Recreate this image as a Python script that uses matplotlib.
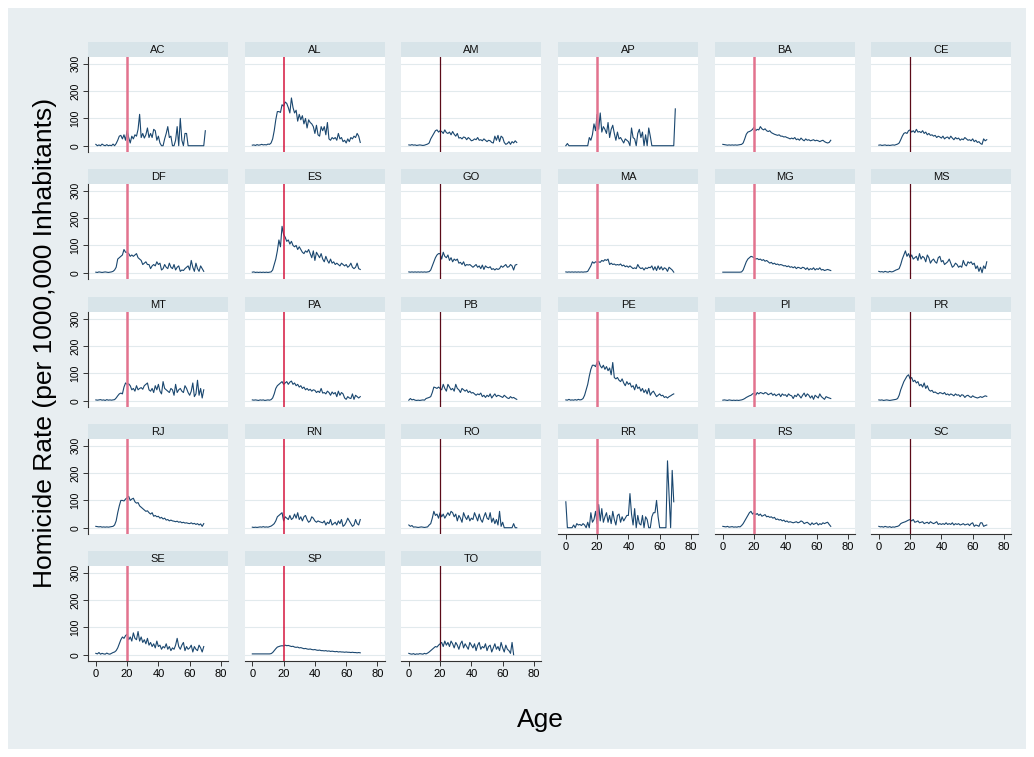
import matplotlib
matplotlib.use("Agg")
import matplotlib.pyplot as plt
from matplotlib.patches import Rectangle

plt.rcParams['font.family'] = ['Liberation Sans', 'DejaVu Sans']

# homicide rate by age (0, 1, 2, ...) for each state
AC = [5, 0, 3, 0, 6, 2, 0, 4, 0, 2, 0, 6, 0, 8, 20, 35, 38, 25, 40, 20,
      55, 30, 10, 35, 25, 40, 35, 60, 115, 30, 45, 28, 40, 65, 30, 45, 30, 60, 55, 20,
      35, 10, 0, 0, 25, 45, 70, 30, 35, 0, 0, 20, 70, 0, 100, 20, 0, 45, 45, 0,
      0, 0, 0, 0, 0, 0, 0, 0, 0, 0, 55]
AL = [2, 3, 1, 4, 2, 3, 5, 3, 4, 3, 6, 5, 10, 25, 55, 95, 125, 125, 122, 150,
      145, 160, 155, 140, 120, 175, 140, 120, 130, 90, 115, 95, 110, 80, 100, 65, 95, 85, 80, 70,
      45, 75, 40, 35, 70, 55, 70, 40, 85, 25, 20, 30, 25, 30, 20, 45, 25, 30, 15, 20,
      10, 25, 15, 30, 25, 35, 30, 45, 35, 12]
AM = [3, 2, 4, 2, 3, 1, 2, 3, 2, 1, 2, 4, 6, 10, 25, 35, 45, 55, 58, 50,
      55, 52, 45, 58, 48, 45, 50, 40, 52, 42, 35, 45, 28, 30, 25, 32, 30, 22, 30, 25,
      18, 20, 25, 22, 30, 20, 22, 18, 25, 20, 15, 20, 18, 12, 10, 35, 20, 38, 15, 35,
      30, 12, 5, 8, 15, 5, 15, 10, 18, 12]
AP = [0, 8, 0, 0, 0, 0, 0, 0, 0, 0, 0, 0, 0, 0, 0, 30, 20, 40, 80, 55,
      115, 60, 120, 50, 70, 60, 45, 85, 30, 60, 75, 45, 20, 50, 25, 30, 20, 10, 25, 20,
      15, 0, 65, 30, 25, 0, 45, 60, 30, 50, 0, 40, 0, 65, 35, 0, 0, 0, 0, 0,
      0, 0, 0, 0, 0, 0, 0, 0, 0, 0, 135]
BA = [5, 4, 3, 2, 3, 2, 3, 2, 3, 2, 3, 4, 5, 10, 25, 42, 50, 52, 55, 60,
      68, 55, 60, 58, 70, 62, 58, 62, 55, 52, 55, 48, 45, 42, 40, 38, 40, 35, 35, 32,
      33, 30, 28, 25, 28, 25, 30, 22, 25, 20, 28, 22, 18, 25, 20, 22, 18, 20, 22, 18,
      20, 18, 15, 18, 20, 15, 12, 10, 12, 20]
CE = [2, 3, 1, 2, 3, 1, 2, 1, 2, 3, 2, 4, 6, 10, 22, 35, 45, 48, 45, 55,
      58, 50, 55, 48, 60, 50, 52, 48, 55, 45, 50, 40, 45, 38, 40, 35, 38, 30, 35, 32,
      28, 35, 25, 30, 32, 25, 35, 28, 22, 30, 25, 28, 20, 25, 22, 30, 25, 20, 22, 18,
      25, 15, 20, 12, 15, 8, 5, 25, 18, 22]
DF = [2, 1, 3, 2, 1, 2, 3, 2, 1, 2, 3, 5, 10, 20, 50, 55, 60, 65, 85, 75,
      75, 70, 60, 65, 60, 65, 70, 55, 50, 45, 30, 35, 40, 30, 30, 15, 25, 30, 25, 40,
      30, 35, 10, 15, 30, 20, 15, 35, 20, 15, 30, 10, 20, 25, 5, 10, 8, 15, 20, 25,
      10, 45, 20, 5, 35, 15, 5, 25, 15, 5]
ES = [2, 3, 1, 2, 1, 2, 1, 2, 1, 2, 1, 2, 3, 10, 30, 50, 80, 120, 95, 170,
      140, 130, 115, 120, 105, 115, 100, 95, 100, 85, 95, 85, 75, 70, 80, 75, 85, 70, 55, 80,
      45, 75, 65, 55, 70, 50, 40, 60, 45, 35, 50, 35, 40, 30, 35, 30, 25, 35, 30, 25,
      30, 20, 25, 35, 20, 15, 20, 35, 15, 12]
GO = [3, 2, 3, 2, 3, 2, 3, 2, 3, 2, 3, 2, 3, 4, 10, 25, 40, 55, 65, 70,
      70, 50, 75, 60, 55, 65, 45, 55, 40, 50, 45, 50, 35, 38, 30, 40, 25, 30, 28, 30,
      25, 20, 25, 30, 20, 25, 15, 28, 12, 25, 20, 18, 22, 12, 15, 10, 15, 12, 15, 25,
      20, 25, 30, 20, 22, 30, 25, 10, 28, 30]
MA = [3, 2, 3, 2, 3, 2, 3, 2, 3, 2, 3, 2, 3, 3, 5, 15, 25, 40, 35, 40,
      38, 40, 38, 45, 42, 48, 45, 50, 30, 35, 30, 32, 28, 30, 28, 32, 25, 28, 22, 25,
      20, 25, 20, 15, 18, 15, 30, 20, 15, 18, 10, 18, 15, 20, 18, 25, 10, 22, 8, 25,
      12, 22, 10, 18, 15, 5, 20, 15, 10, 2]
MG = [2, 2, 2, 2, 2, 2, 2, 2, 2, 2, 2, 2, 3, 10, 25, 40, 50, 55, 60, 58,
      55, 50, 52, 48, 50, 45, 48, 42, 45, 40, 35, 38, 32, 35, 30, 32, 28, 30, 28, 25,
      26, 22, 25, 20, 22, 18, 22, 15, 20, 18, 15, 20, 18, 12, 18, 10, 15, 12, 18, 10,
      15, 12, 18, 10, 12, 8, 10, 12, 10, 8]
MS = [5, 3, 4, 2, 5, 3, 2, 5, 3, 4, 7, 10, 12, 15, 30, 50, 65, 80, 60, 70,
      55, 65, 50, 55, 60, 45, 70, 50, 60, 55, 40, 65, 55, 35, 45, 50, 40, 35, 55, 60,
      40, 45, 30, 35, 40, 50, 35, 20, 25, 35, 30, 20, 25, 20, 45, 30, 25, 40, 35, 40,
      30, 35, 15, 25, 5, 20, 0, 25, 15, 40]
MT = [3, 2, 3, 4, 2, 3, 1, 4, 2, 3, 2, 3, 4, 10, 18, 25, 28, 25, 50, 65,
      60, 62, 55, 40, 45, 35, 55, 40, 45, 48, 42, 55, 60, 65, 40, 35, 45, 30, 55, 40,
      60, 35, 25, 70, 45, 40, 35, 30, 45, 40, 20, 60, 30, 40, 45, 35, 30, 55, 45, 30,
      20, 35, 65, 15, 25, 75, 20, 45, 10, 40]
PA = [3, 2, 3, 2, 1, 3, 2, 3, 1, 2, 3, 2, 4, 10, 25, 45, 55, 60, 65, 70,
      60, 65, 70, 60, 68, 72, 60, 65, 55, 60, 50, 55, 45, 50, 40, 45, 38, 42, 35, 40,
      38, 30, 35, 30, 45, 28, 30, 25, 35, 30, 20, 32, 25, 30, 15, 35, 20, 30, 25, 10,
      5, 15, 10, 8, 25, 5, 20, 15, 10, 15]
PB = [2, 8, 3, 5, 2, 1, 2, 1, 2, 3, 2, 8, 10, 12, 15, 30, 50, 48, 45, 50,
      45, 40, 60, 45, 35, 60, 50, 40, 45, 35, 60, 45, 40, 30, 45, 40, 35, 40, 30, 35,
      28, 30, 25, 20, 25, 22, 28, 15, 20, 12, 20, 15, 25, 10, 18, 25, 15, 20, 18, 15,
      12, 20, 15, 10, 8, 15, 10, 12, 8, 5]
PE = [3, 2, 5, 2, 3, 2, 4, 2, 5, 3, 4, 8, 20, 40, 60, 90, 115, 130, 130, 125,
      140, 145, 128, 120, 130, 115, 125, 110, 120, 95, 140, 85, 80, 85, 75, 70, 80, 65, 55, 70,
      60, 65, 50, 55, 40, 60, 45, 50, 35, 45, 30, 40, 25, 45, 20, 30, 35, 25, 15, 20,
      25, 18, 20, 12, 15, 10, 15, 18, 22, 25]
PI = [2, 3, 2, 1, 3, 2, 1, 2, 1, 2, 1, 2, 3, 5, 8, 12, 15, 18, 20, 25,
      28, 20, 30, 25, 30, 28, 25, 30, 28, 22, 25, 28, 20, 25, 18, 22, 25, 15, 25, 20,
      22, 15, 25, 20, 18, 8, 20, 15, 25, 18, 10, 20, 28, 15, 25, 20, 10, 18, 5, 20,
      15, 10, 25, 15, 10, 5, 15, 12, 10, 8]
PR = [3, 2, 3, 1, 2, 3, 2, 1, 2, 3, 4, 5, 8, 20, 40, 55, 70, 80, 90, 95,
      80, 85, 70, 75, 65, 70, 55, 60, 50, 65, 45, 55, 40, 35, 38, 30, 32, 28, 25, 30,
      28, 25, 30, 22, 25, 20, 25, 22, 18, 25, 20, 22, 15, 22, 20, 12, 18, 20, 15, 12,
      18, 14, 12, 10, 12, 15, 12, 15, 18, 16]
RJ = [5, 4, 3, 4, 2, 3, 2, 3, 2, 3, 4, 5, 10, 25, 55, 80, 100, 100, 98, 105,
      110, 115, 100, 105, 108, 95, 90, 92, 80, 75, 70, 65, 60, 62, 55, 50, 55, 42, 45, 40,
      42, 35, 38, 32, 35, 28, 30, 25, 28, 25, 24, 22, 24, 20, 22, 18, 20, 17, 18, 16,
      15, 18, 14, 16, 12, 15, 10, 14, 5, 15]
RN = [2, 1, 2, 1, 2, 3, 2, 4, 2, 3, 2, 4, 6, 10, 15, 25, 40, 45, 50, 55,
      25, 40, 35, 30, 45, 30, 35, 50, 35, 55, 30, 40, 25, 40, 45, 30, 20, 25, 40, 35,
      25, 20, 25, 22, 20, 18, 25, 10, 20, 15, 30, 10, 15, 20, 10, 25, 15, 30, 5, 10,
      20, 35, 25, 15, 5, 10, 30, 15, 10, 30]
RO = [10, 5, 8, 2, 3, 2, 1, 2, 3, 2, 1, 2, 3, 10, 15, 35, 60, 45, 50, 35,
      55, 40, 50, 35, 45, 55, 45, 60, 55, 40, 50, 25, 45, 35, 20, 55, 40, 30, 45, 25,
      35, 30, 55, 40, 25, 50, 30, 20, 40, 55, 35, 30, 55, 20, 35, 15, 30, 10, 60, 5,
      20, 0, 0, 0, 0, 0, 0, 15, 0, 0]
RR = [95, 0, 0, 0, 0, 10, 0, 15, 10, 12, 8, 15, 10, 0, 20, 0, 55, 20, 30, 60,
      15, 85, 25, 70, 20, 40, 55, 20, 45, 15, 60, 30, 10, 45, 50, 20, 40, 25, 35, 45,
      45, 125, 50, 10, 70, 0, 45, 15, 10, 45, 0, 40, 30, 0, 0, 40, 55, 55, 100, 40,
      0, 0, 0, 0, 0, 245, 120, 0, 210, 95]
RS = [5, 4, 3, 5, 2, 3, 4, 2, 3, 2, 4, 3, 8, 15, 25, 35, 45, 55, 60, 50,
      55, 48, 52, 45, 50, 42, 45, 48, 40, 42, 38, 40, 35, 38, 30, 32, 28, 30, 25, 28,
      22, 25, 20, 22, 20, 18, 20, 22, 18, 20, 25, 22, 15, 18, 20, 15, 10, 18, 12, 15,
      18, 10, 15, 12, 18, 15, 18, 20, 12, 5]
SC = [5, 3, 4, 2, 5, 3, 2, 4, 1, 3, 2, 4, 5, 8, 15, 18, 20, 22, 25, 28,
      30, 25, 30, 20, 22, 25, 18, 20, 22, 15, 18, 20, 15, 22, 18, 15, 18, 22, 12, 15,
      12, 15, 12, 18, 12, 15, 12, 18, 10, 15, 12, 15, 10, 12, 15, 10, 12, 14, 8, 15,
      18, 5, 10, 8, 5, 18, 18, 5, 8, 10]
SE = [5, 3, 8, 2, 5, 3, 2, 6, 3, 2, 5, 8, 10, 15, 25, 40, 55, 65, 60, 70,
      75, 55, 65, 50, 80, 60, 55, 85, 50, 65, 45, 55, 40, 60, 35, 45, 30, 40, 25, 50,
      30, 35, 20, 30, 25, 40, 20, 30, 15, 25, 20, 35, 60, 30, 20, 35, 45, 15, 30, 20,
      25, 35, 10, 30, 20, 15, 35, 25, 10, 30]
SP = [3, 3, 3, 3, 3, 3, 3, 3, 3, 3, 3, 3, 4, 8, 15, 22, 28, 30, 32, 33,
      32, 35, 33, 34, 32, 30, 31, 28, 27, 28, 25, 26, 24, 22, 23, 21, 20, 21, 19, 18,
      19, 17, 16, 17, 15, 15, 14, 15, 13, 14, 12, 13, 12, 11, 12, 10, 11, 10, 10, 9,
      10, 9, 9, 8, 9, 8, 8, 7, 8, 7]
TO = [5, 3, 2, 4, 1, 3, 2, 4, 3, 2, 5, 3, 6, 10, 15, 20, 25, 30, 28, 35,
      40, 45, 30, 50, 35, 45, 30, 50, 40, 25, 45, 35, 20, 40, 50, 25, 40, 30, 20, 45,
      35, 25, 40, 15, 35, 45, 20, 30, 25, 40, 15, 30, 35, 10, 25, 40, 20, 30, 15, 45,
      25, 10, 35, 20, 15, 5, 45, 0]

states = ["AC", "AL", "AM", "AP", "BA", "CE",
          "DF", "ES", "GO", "MA", "MG", "MS",
          "MT", "PA", "PB", "PE", "PI", "PR",
          "RJ", "RN", "RO", "RR", "RS", "SC",
          "SE", "SP", "TO"]
series = [AC, AL, AM, AP, BA, CE, DF, ES, GO, MA, MG, MS, MT, PA, PB,
          PE, PI, PR, RJ, RN, RO, RR, RS, SC, SE, SP, TO]
yticks = [0, 100, 200, 300]
xticks = [0, 20, 40, 60, 80]
cutoff_age = 20

W, H = 1034, 757
bg = '#e8eef1'
strip_bg = '#d8e4e9'
line_col = '#1a476f'
grid_col = '#e2eaed'
vline_cols = ['#e2738e', '#d4163e', '#5a0a18', '#e2738e', '#e2738e', '#5a0a18']
vline_lw = [1.8, 1.1, 0.9, 1.8, 1.8, 0.9]

fig = plt.figure(figsize=(W / 100, H / 100), dpi=100, facecolor='white')
fig.patches.append(Rectangle((8 / W, 8 / H), 1 - 16 / W, 1 - 16 / H,
                             transform=fig.transFigure, facecolor=bg,
                             edgecolor='none', zorder=-10))

col_x = [88, 244.5, 401, 558, 715, 871]
row_y = [42, 169, 297, 424, 551]
pw, sh, ph = 140, 15, 95

for i, (st, vals) in enumerate(zip(states, series)):
    r, c = divmod(i, 6)
    x0 = col_x[c]
    top = row_y[r]
    # strip title
    sax = fig.add_axes([x0 / W, 1 - (top + sh) / H, pw / W, sh / H])
    sax.set_facecolor(strip_bg)
    sax.set_xticks([])
    sax.set_yticks([])
    for s in sax.spines.values():
        s.set_visible(False)
    sax.text(0.5, 0.45, st, ha='center', va='center', fontsize=8,
             color='#111111', transform=sax.transAxes)

    ax = fig.add_axes([x0 / W, 1 - (top + sh + ph) / H, pw / W, ph / H])
    ax.set_facecolor('white')
    ages = list(range(len(vals)))
    ax.plot(ages, vals, color=line_col, lw=0.8, zorder=3)
    ax.axvline(cutoff_age, color=vline_cols[c], lw=vline_lw[c], zorder=4)
    for yv in yticks:
        ax.axhline(yv, color=grid_col, lw=0.8, zorder=1)
    ax.set_xlim(-5, 84.5)
    ax.set_ylim(-23, 325)
    ax.set_yticks(yticks)
    ax.set_xticks(xticks)
    for s in ax.spines.values():
        s.set_visible(False)

    is_bottom = (i + 6 >= len(states))
    if c == 0:
        ax.spines['left'].set_visible(True)
        ax.spines['left'].set_color('#333333')
        ax.spines['left'].set_linewidth(0.8)
        ax.tick_params(axis='y', length=3.5, width=0.7, color='#333333',
                       labelsize=7.5, pad=2)
        for lbl in ax.get_yticklabels():
            lbl.set_rotation(90)
            lbl.set_va('center')
    else:
        ax.tick_params(axis='y', left=False, labelleft=False)
    if is_bottom:
        ax.spines['bottom'].set_visible(True)
        ax.spines['bottom'].set_color('#333333')
        ax.spines['bottom'].set_linewidth(0.8)
        ax.tick_params(axis='x', length=3.5, width=0.7, color='#333333',
                       labelsize=8, pad=2)
    else:
        ax.tick_params(axis='x', bottom=False, labelbottom=False)

fig.text(45 / W, 1 - 343 / H, 'Homicide Rate (per 1000,000 Inhabitants)',
         rotation=90, ha='center', va='center', fontsize=19)
fig.text(540 / W, 1 - 720 / H, 'Age', ha='center', va='center', fontsize=19)

fig.savefig('out.png', dpi=100, facecolor='white')
